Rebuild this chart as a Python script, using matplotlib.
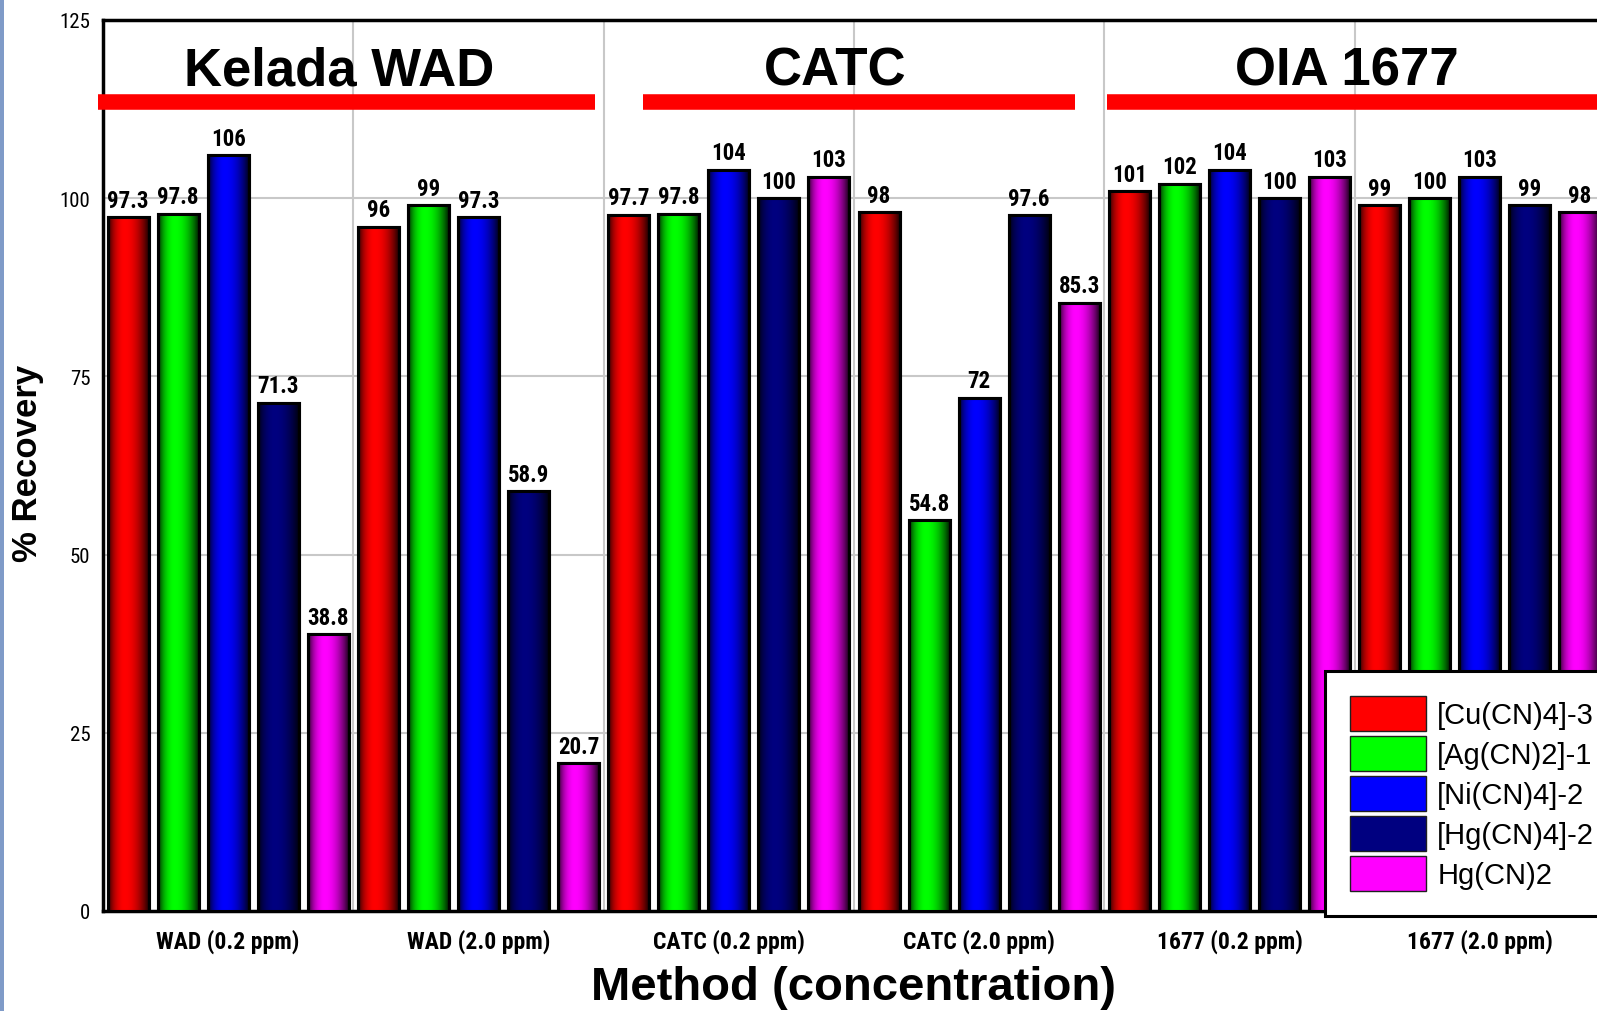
import numpy as np
import matplotlib
matplotlib.use("Agg")
import matplotlib.pyplot as plt
from matplotlib.patches import Patch, Rectangle

# recovery data (%), one list per cyanide species, one value per method/concentration
groups = ['WAD (0.2 ppm)', 'WAD (2.0 ppm)', 'CATC (0.2 ppm)',
          'CATC (2.0 ppm)', '1677 (0.2 ppm)', '1677 (2.0 ppm)']
species = ['[Cu(CN)4]-3', '[Ag(CN)2]-1', '[Ni(CN)4]-2', '[Hg(CN)4]-2', 'Hg(CN)2']
cu = [97.3, 96, 97.7, 98, 101, 99]
ag = [97.8, 99, 97.8, 54.8, 102, 100]
ni = [106, 97.3, 104, 72, 104, 103]
hg4 = [71.3, 58.9, 100, 97.6, 100, 99]
hg2 = [38.8, 20.7, 103, 85.3, 103, 98]
series = [cu, ag, ni, hg4, hg2]
colors = ['#ff0000', '#00ff00', '#0000ff', '#000080', '#ff00ff']

# method headers along the top
headers = ['Kelada WAD', 'CATC', 'OIA 1677']
header_x = [4.22, 14.12, 24.35]
header_spans = [(-0.6, 9.32), (10.28, 18.92), (19.55, 30.5)]

narrow = ['Roboto Condensed', 'Liberation Sans']
wide = ['Liberation Sans', 'DejaVu Sans']

fig = plt.figure(figsize=(15.97, 10.12), dpi=100)
ax = fig.add_axes([103 / 1597, 1 - 912 / 1012, 1502 / 1597, 891 / 1012])

# slide strip at the left edge
fig.patches.append(Rectangle((0, 0), 4 / 1597, 1, transform=fig.transFigure,
                             facecolor='#7f9bc8', edgecolor='none'))

ngroups = len(groups)
nser = len(series)


def shade(t):
    # cylinder-like shading: dark edges, bright slightly left of centre
    f = np.where(t < 0.4,
                 np.sin(np.clip(t / 0.4, 0, 1) * np.pi / 2) ** 0.6,
                 np.sin(np.clip((1 - t) / 0.6, 0, 1) * np.pi / 2) ** 0.8)
    return f


t = np.linspace(0, 1, 64)
f = shade(t)

for s in range(nser):
    xs = np.arange(ngroups) * nser + s
    bars = ax.bar(xs, series[s], width=0.82, color=colors[s],
                  edgecolor='black', linewidth=2.2, zorder=3)
    rgb = np.array(matplotlib.colors.to_rgb(colors[s]))
    grad = (f[:, None] * rgb[None, :])[None, :, :]
    for b, v in zip(bars, series[s]):
        x0 = b.get_x()
        img = ax.imshow(grad, extent=[x0, x0 + b.get_width(), 0, b.get_height()],
                        aspect='auto', zorder=3.5, interpolation='bilinear')
        img.set_clip_path(b)
        ax.add_patch(Rectangle((x0, 0), b.get_width(), b.get_height(), fill=False,
                               edgecolor='black', linewidth=2.2, zorder=4))
        ax.annotate(f'{v:g}', (x0 + b.get_width() / 2, v), xytext=(0, 4),
                    textcoords='offset points', ha='center', va='bottom',
                    fontsize=16.5, fontweight='bold', family=narrow, zorder=5)

ax.set_xlim(-0.5, ngroups * nser - 0.5)
ax.set_ylim(0, 125)
ax.set_yticks([0, 25, 50, 75, 100, 125])
ax.set_xticks(np.arange(ngroups) * nser + 2)
ax.set_xticklabels(groups, fontsize=17, fontweight='bold', family=narrow)
ax.tick_params(axis='both', length=0)
ax.tick_params(axis='x', pad=13)
ax.tick_params(axis='y', pad=9, labelsize=15, labelfontfamily=narrow[0])

# grid: horizontal at ticks, vertical at group boundaries
for yv in [25, 50, 75, 100]:
    ax.axhline(yv, color='#c8c8c8', linewidth=1.5, zorder=1)
for g in range(1, ngroups):
    ax.axvline(g * nser - 0.5, color='#c8c8c8', linewidth=1.5, zorder=1)

for side in ['left', 'bottom', 'top']:
    ax.spines[side].set_linewidth(2.5)
    ax.spines[side].set_color('black')
ax.spines['right'].set_visible(False)

for name, xc, (a, b) in zip(headers, header_x, header_spans):
    ax.plot([a, b], [113.5, 113.5], color='#ff0000', linewidth=11.2,
            solid_capstyle='butt', clip_on=False, zorder=6)
    ax.text(xc, 115.9, name, ha='center', va='baseline', fontsize=38,
            fontweight='bold', family=wide, zorder=6)

fig.text(28 / 1597, 1 - 463 / 1012, '% Recovery', rotation=90, ha='center',
         va='center', fontsize=25, fontweight='bold', family=wide)
fig.text(853 / 1597, 1 - 1000 / 1012, 'Method (concentration)', ha='center',
         va='baseline', fontsize=34, fontweight='bold', family=wide)

handles = [Patch(facecolor=c, edgecolor='#202020', linewidth=1) for c in colors]
leg = fig.legend(handles, species, loc='upper left',
                 bbox_to_anchor=(1325 / 1597, 1 - 672 / 1012),
                 prop={'family': wide, 'size': 21}, frameon=True, fancybox=False,
                 framealpha=1, facecolor='white',
                 handlelength=2.6, handleheight=1.5, labelspacing=0.15,
                 handletextpad=0.4, borderpad=0.85, borderaxespad=0)
leg.get_frame().set_edgecolor('black')
leg.get_frame().set_linewidth(2.2)
leg.set_zorder(10)

fig.savefig('out.png', dpi=100)
